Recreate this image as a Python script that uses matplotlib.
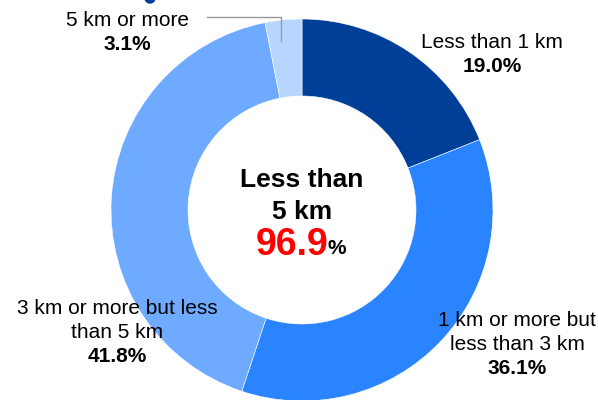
import matplotlib
matplotlib.use('Agg')
import matplotlib.pyplot as plt

# Data
categories = ['Less than 1 km', '1 km or more but\nless than 3 km',
              '3 km or more but less\nthan 5 km', '5 km or more']
shares = [19.0, 36.1, 41.8, 3.1]
colors = ['#003f98', '#2a83ff', '#6eaaff', '#b6d6ff']
center_title = ['Less than', '5 km']
center_value = '96.9'

plt.rcParams['font.family'] = ['Liberation Sans', 'DejaVu Sans']

fig = plt.figure(figsize=(5.98, 4.0), dpi=100)
ax = fig.add_axes([0, 0, 1, 1])

H = 400  # pixel y -> data y

ax.pie(shares, colors=colors, startangle=90, counterclock=False,
       center=(302, H - 210), radius=191,
       wedgeprops=dict(width=77, edgecolor='white', linewidth=0.4))
ax.set_xlim(0, 598)
ax.set_ylim(0, 400)
ax.set_aspect('equal')
ax.axis('off')

# category labels: centre x and y of the first line, lines 25 px apart
label_pos = [(492, 42), (517, 320), (117, 308), (127, 20)]
for cat, val, (x, y) in zip(categories, shares, label_pos):
    lines = cat.split('\n')
    for i, line in enumerate(lines):
        ax.text(x, H - y - 25 * i, line, ha='center', va='center',
                fontsize=15)
    ax.text(x, H - y - 25 * len(lines) + 1, f'{val:.1f}%', ha='center',
            va='center', fontsize=15, fontweight='bold')

# leader line for the small slice
ax.plot([207, 281, 281], [H - 17, H - 17, H - 41], color='#999999', lw=1)

# centre text
for i, line in enumerate(center_title):
    ax.text(302, H - 180 - 32 * i, line, ha='center', va='center',
            fontsize=19, fontweight='bold')
ax.text(292, H - 245, center_value, ha='center', va='center',
        fontsize=27, fontweight='bold', color='#ff0000')
ax.text(328, H - 249, '%', ha='left', va='center', fontsize=15,
        fontweight='bold')

# cut-off mark from the title above the frame
ax.add_patch(plt.Circle((150, H + 2), 5, color='#003f98', clip_on=True))

fig.savefig('out.png', dpi=100)
